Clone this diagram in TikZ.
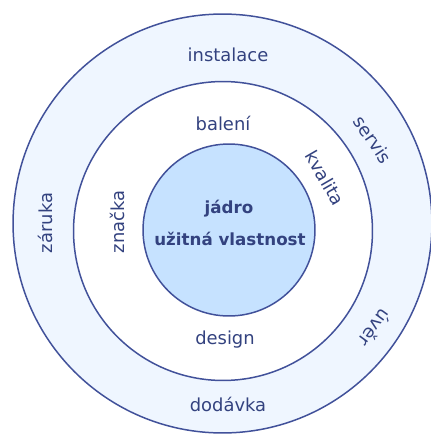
\documentclass[tikz,border=0pt]{standalone}
\usepackage{fontspec}
\setmainfont{DejaVu Sans}
\definecolor{ringline}{HTML}{41519A}
\definecolor{ringtext}{HTML}{33427F}
\definecolor{outerfill}{HTML}{EFF6FF}
\definecolor{corefill}{HTML}{C6E2FF}
\tikzset{
  ring/.style={circle, draw=ringline, line width=0.85pt, inner sep=0pt},
  lbl/.style={text=ringtext, inner sep=0pt, font=\fontsize{10.2}{12}\selectfont},
  corelbl/.style={lbl, font=\fontsize{9.5}{12}\selectfont\bfseries}
}

\begin{document}
\begin{tikzpicture}[x=0.02cm,y=-0.02cm]
    \useasboundingbox (0,0) rectangle (430,436);
    \fill[white] (0,0) rectangle (430,436);
    \node[ring, fill=outerfill, minimum size=8.38cm] (outer) at (222.5,223.5) {};
    \node[ring, fill=white, minimum size=5.98cm] (middle) at (223,231) {};
    \node[ring, fill=corefill, minimum size=3.44cm] (core) at (229,230) {};
    % outer ring
    \node[lbl] (instalace) at (228,55) {instalace};
    \node[lbl] (dodavka) at (228,404) {dodávka};
    \node[lbl, rotate=90] (zaruka) at (45,223) {záruka};
    \node[lbl, rotate=-56] (servis) at (373,140) {servis};
    \node[lbl, rotate=-126] (uver) at (375,328) {úvěr};
    % middle ring
    \node[lbl] (baleni) at (223,123) {balení};
    \node[lbl] (design) at (225,340) {design};
    \node[lbl, rotate=90] (znacka) at (117,222) {značka};
    \node[lbl, rotate=-60] (kvalita) at (325,178) {kvalita};
    % core
    \node[corelbl] (jadro) at (229,209) {jádro};
    \node[corelbl] (uzitna) at (230,239) {užitná vlastnost};
\end{tikzpicture}
\end{document}
